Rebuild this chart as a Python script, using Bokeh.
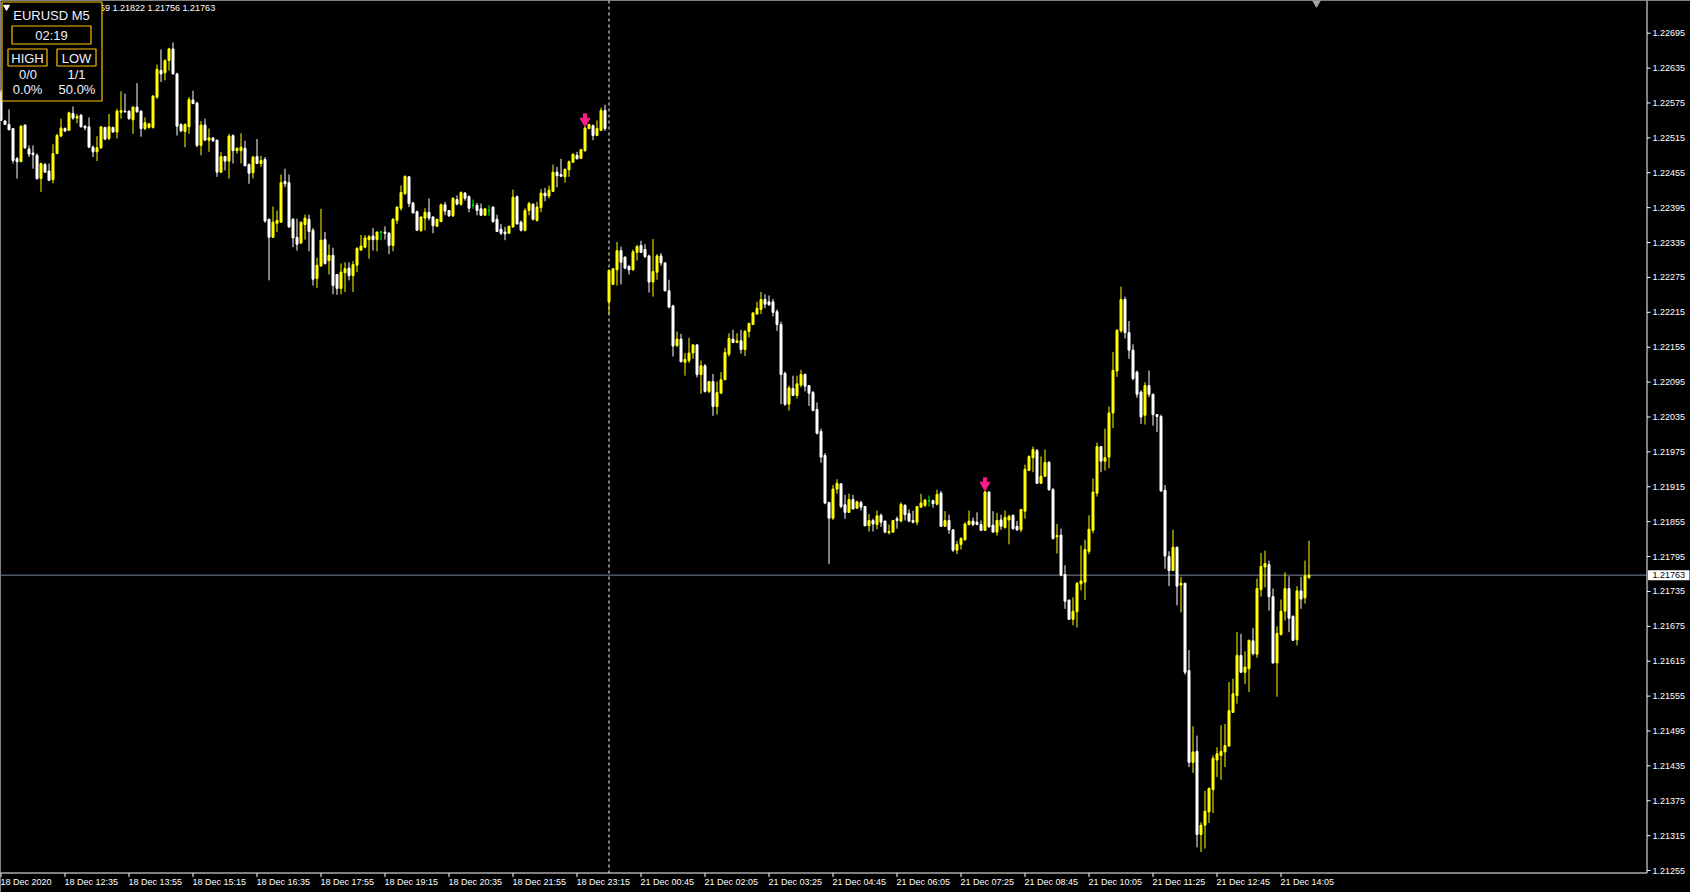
import numpy as np
from bokeh.plotting import figure
from bokeh.models import Range1d, ColumnDataSource
from bokeh.embed import file_html
from bokeh.resources import INLINE
from bokeh.core.properties import value

# ---------------- data (EURUSD M5) ----------------
symbol_title = "EURUSD M5"
bar_timer = "02:19"
stat_headers = ["HIGH", "LOW"]
stat_counts = ["0/0", "1/1"]
stat_pcts = ["0.0%", "50.0%"]

open_ = [
    1.22594, 1.22544, 1.22538, 1.22531, 1.22479, 1.22474, 1.22537, 1.22496, 1.22489, 1.22485,
    1.22445, 1.22469, 1.22458, 1.22443, 1.22488, 1.22518, 1.22531, 1.22528, 1.22557, 1.22549,
    1.22554, 1.22535, 1.22534, 1.22499, 1.22491, 1.22498, 1.22533, 1.22514, 1.22533, 1.22525,
    1.22559, 1.22561, 1.22561, 1.22546, 1.22568, 1.22561, 1.22531, 1.22533, 1.22533, 1.22585,
    1.22631, 1.22627, 1.22648, 1.22668, 1.22625, 1.22538, 1.22526, 1.22534, 1.22580, 1.22575,
    1.22502, 1.22537, 1.22511, 1.22515, 1.22511, 1.22456, 1.22483, 1.22475, 1.22519, 1.22493,
    1.22493, 1.22497, 1.22469, 1.22455, 1.22483, 1.22471, 1.22478, 1.22375, 1.22344, 1.22368,
    1.22370, 1.22440, 1.22438, 1.22375, 1.22344, 1.22334, 1.22366, 1.22375, 1.22356, 1.22273,
    1.22295, 1.22340, 1.22304, 1.22313, 1.22280, 1.22256, 1.22283, 1.22291, 1.22278, 1.22296,
    1.22322, 1.22327, 1.22340, 1.22346, 1.22340, 1.22353, 1.22353, 1.22351, 1.22330, 1.22373,
    1.22394, 1.22419, 1.22448, 1.22403, 1.22388, 1.22356, 1.22377, 1.22387, 1.22379, 1.22363,
    1.22371, 1.22400, 1.22390, 1.22381, 1.22409, 1.22401, 1.22420, 1.22414, 1.22399, 1.22399,
    1.22393, 1.22382, 1.22390, 1.22396, 1.22375, 1.22358, 1.22353, 1.22351, 1.22362, 1.22414,
    1.22370, 1.22356, 1.22390, 1.22401, 1.22373, 1.22395, 1.22420, 1.22415, 1.22423, 1.22456,
    1.22452, 1.22448, 1.22460, 1.22473, 1.22485, 1.22480, 1.22493, 1.22531, 1.22536, 1.22519,
    1.22528, 1.22562, 1.22233, 1.22263, 1.22288, 1.22321, 1.22310, 1.22294, 1.22288, 1.22318,
    1.22330, 1.22323, 1.22312, 1.22267, 1.22284, 1.22312, 1.22300, 1.22252, 1.22226, 1.22158,
    1.22169, 1.22129, 1.22132, 1.22145, 1.22159, 1.22108, 1.22123, 1.22079, 1.22096, 1.22053,
    1.22076, 1.22099, 1.22143, 1.22169, 1.22163, 1.22166, 1.22151, 1.22182, 1.22194, 1.22212,
    1.22220, 1.22237, 1.22233, 1.22233, 1.22216, 1.22194, 1.22110, 1.22057, 1.22084, 1.22072,
    1.22090, 1.22108, 1.22089, 1.22077, 1.22048, 1.22010, 1.21969, 1.21888, 1.21861, 1.21911,
    1.21920, 1.21884, 1.21871, 1.21893, 1.21878, 1.21888, 1.21881, 1.21848, 1.21857, 1.21850,
    1.21866, 1.21856, 1.21836, 1.21837, 1.21860, 1.21856, 1.21883, 1.21869, 1.21857, 1.21854,
    1.21880, 1.21883, 1.21891, 1.21891, 1.21885, 1.21904, 1.21847, 1.21857, 1.21841, 1.21806,
    1.21816, 1.21824, 1.21850, 1.21856, 1.21854, 1.21850, 1.21840, 1.21906, 1.21849, 1.21837,
    1.21858, 1.21845, 1.21858, 1.21866, 1.21847, 1.21841, 1.21873, 1.21943, 1.21965, 1.21977,
    1.21921, 1.21933, 1.21957, 1.21910, 1.21829, 1.21832, 1.21764, 1.21720, 1.21687, 1.21700,
    1.21748, 1.21751, 1.21804, 1.21840, 1.21904, 1.21984, 1.21959, 1.21966, 1.22042, 1.22114,
    1.22183, 1.22237, 1.22180, 1.22150, 1.22112, 1.22078, 1.22038, 1.22089, 1.22074, 1.22039,
    1.22036, 1.21909, 1.21795, 1.21771, 1.21811, 1.21746, 1.21749, 1.21599, 1.21441, 1.21460,
    1.21317, 1.21333, 1.21356, 1.21394, 1.21445, 1.21453, 1.21459, 1.21469, 1.21527, 1.21556,
    1.21625, 1.21596, 1.21602, 1.21650, 1.21627, 1.21738, 1.21777, 1.21781, 1.21726, 1.21612,
    1.21661, 1.21701, 1.21740, 1.21692, 1.21652, 1.21736, 1.21724, 1.21759,
]
high = [
    1.22597, 1.22546, 1.22564, 1.22531, 1.22482, 1.22537, 1.22538, 1.22502, 1.22502, 1.22488,
    1.22472, 1.22472, 1.22471, 1.22504, 1.22522, 1.22548, 1.22533, 1.22560, 1.22569, 1.22556,
    1.22556, 1.22537, 1.22550, 1.22502, 1.22518, 1.22535, 1.22534, 1.22556, 1.22534, 1.22565,
    1.22595, 1.22591, 1.22562, 1.22569, 1.22609, 1.22562, 1.22550, 1.22541, 1.22588, 1.22641,
    1.22667, 1.22650, 1.22670, 1.22679, 1.22627, 1.22540, 1.22540, 1.22585, 1.22596, 1.22577,
    1.22544, 1.22548, 1.22531, 1.22515, 1.22512, 1.22491, 1.22484, 1.22522, 1.22521, 1.22499,
    1.22523, 1.22510, 1.22471, 1.22484, 1.22513, 1.22484, 1.22482, 1.22376, 1.22397, 1.22390,
    1.22452, 1.22462, 1.22452, 1.22377, 1.22376, 1.22371, 1.22383, 1.22383, 1.22360, 1.22309,
    1.22393, 1.22353, 1.22332, 1.22326, 1.22281, 1.22299, 1.22301, 1.22301, 1.22303, 1.22327,
    1.22348, 1.22348, 1.22348, 1.22360, 1.22354, 1.22354, 1.22363, 1.22353, 1.22377, 1.22397,
    1.22433, 1.22450, 1.22449, 1.22405, 1.22390, 1.22380, 1.22394, 1.22411, 1.22380, 1.22376,
    1.22402, 1.22405, 1.22391, 1.22413, 1.22416, 1.22423, 1.22422, 1.22416, 1.22409, 1.22403,
    1.22402, 1.22394, 1.22399, 1.22397, 1.22383, 1.22367, 1.22362, 1.22364, 1.22426, 1.22416,
    1.22373, 1.22394, 1.22405, 1.22402, 1.22405, 1.22427, 1.22429, 1.22433, 1.22469, 1.22465,
    1.22479, 1.22462, 1.22476, 1.22488, 1.22491, 1.22496, 1.22534, 1.22539, 1.22538, 1.22545,
    1.22567, 1.22572, 1.22289, 1.22291, 1.22336, 1.22328, 1.22311, 1.22296, 1.22323, 1.22331,
    1.22338, 1.22332, 1.22314, 1.22341, 1.22315, 1.22317, 1.22301, 1.22271, 1.22228, 1.22182,
    1.22178, 1.22145, 1.22171, 1.22160, 1.22160, 1.22132, 1.22126, 1.22097, 1.22109, 1.22096,
    1.22112, 1.22154, 1.22179, 1.22185, 1.22179, 1.22185, 1.22185, 1.22197, 1.22215, 1.22233,
    1.22250, 1.22246, 1.22244, 1.22238, 1.22220, 1.22199, 1.22113, 1.22089, 1.22106, 1.22106,
    1.22116, 1.22110, 1.22090, 1.22080, 1.22060, 1.22015, 1.21973, 1.21889, 1.21918, 1.21928,
    1.21921, 1.21901, 1.21903, 1.21901, 1.21891, 1.21891, 1.21882, 1.21868, 1.21860, 1.21874,
    1.21869, 1.21857, 1.21850, 1.21858, 1.21864, 1.21888, 1.21885, 1.21876, 1.21874, 1.21882,
    1.21903, 1.21894, 1.21900, 1.21893, 1.21910, 1.21908, 1.21873, 1.21867, 1.21842, 1.21822,
    1.21828, 1.21854, 1.21874, 1.21862, 1.21871, 1.21857, 1.21908, 1.21907, 1.21873, 1.21870,
    1.21867, 1.21874, 1.21867, 1.21867, 1.21856, 1.21877, 1.21953, 1.21969, 1.21984, 1.21980,
    1.21967, 1.21979, 1.21959, 1.21913, 1.21851, 1.21843, 1.21780, 1.21721, 1.21725, 1.21751,
    1.21814, 1.21824, 1.21866, 1.21929, 1.21991, 1.21985, 1.22015, 1.22053, 1.22147, 1.22186,
    1.22259, 1.22242, 1.22200, 1.22160, 1.22115, 1.22081, 1.22095, 1.22115, 1.22075, 1.22040,
    1.22039, 1.21918, 1.21804, 1.21841, 1.21812, 1.21760, 1.21750, 1.21634, 1.21503, 1.21487,
    1.21338, 1.21392, 1.21398, 1.21453, 1.21467, 1.21505, 1.21507, 1.21579, 1.21585, 1.21665,
    1.21662, 1.21632, 1.21652, 1.21672, 1.21757, 1.21801, 1.21805, 1.21788, 1.21740, 1.21675,
    1.21721, 1.21768, 1.21761, 1.21694, 1.21744, 1.21760, 1.21788, 1.21822,
]
low = [
    1.22544, 1.22537, 1.22528, 1.22471, 1.22445, 1.22474, 1.22496, 1.22482, 1.22462, 1.22443,
    1.22422, 1.22455, 1.22441, 1.22437, 1.22487, 1.22517, 1.22525, 1.22527, 1.22546, 1.22540,
    1.22533, 1.22528, 1.22498, 1.22482, 1.22475, 1.22496, 1.22511, 1.22511, 1.22524, 1.22514,
    1.22548, 1.22558, 1.22546, 1.22522, 1.22558, 1.22517, 1.22528, 1.22531, 1.22531, 1.22582,
    1.22611, 1.22614, 1.22631, 1.22624, 1.22519, 1.22525, 1.22499, 1.22522, 1.22573, 1.22499,
    1.22485, 1.22510, 1.22491, 1.22508, 1.22448, 1.22455, 1.22459, 1.22445, 1.22471, 1.22488,
    1.22471, 1.22466, 1.22436, 1.22445, 1.22470, 1.22465, 1.22369, 1.22270, 1.22343, 1.22353,
    1.22369, 1.22430, 1.22360, 1.22327, 1.22321, 1.22333, 1.22340, 1.22320, 1.22261, 1.22257,
    1.22293, 1.22297, 1.22280, 1.22246, 1.22245, 1.22246, 1.22250, 1.22270, 1.22250, 1.22284,
    1.22321, 1.22325, 1.22307, 1.22321, 1.22320, 1.22339, 1.22340, 1.22315, 1.22320, 1.22367,
    1.22390, 1.22417, 1.22396, 1.22385, 1.22355, 1.22353, 1.22356, 1.22373, 1.22351, 1.22362,
    1.22370, 1.22382, 1.22379, 1.22379, 1.22399, 1.22398, 1.22407, 1.22387, 1.22393, 1.22382,
    1.22381, 1.22381, 1.22381, 1.22369, 1.22353, 1.22348, 1.22339, 1.22350, 1.22360, 1.22366,
    1.22354, 1.22354, 1.22382, 1.22373, 1.22371, 1.22387, 1.22406, 1.22411, 1.22422, 1.22430,
    1.22448, 1.22438, 1.22448, 1.22472, 1.22478, 1.22479, 1.22491, 1.22530, 1.22511, 1.22518,
    1.22527, 1.22527, 1.22212, 1.22262, 1.22261, 1.22263, 1.22289, 1.22280, 1.22287, 1.22304,
    1.22317, 1.22308, 1.22249, 1.22242, 1.22271, 1.22295, 1.22251, 1.22222, 1.22139, 1.22155,
    1.22129, 1.22106, 1.22128, 1.22135, 1.22103, 1.22075, 1.22077, 1.22076, 1.22037, 1.22039,
    1.22075, 1.22099, 1.22139, 1.22162, 1.22162, 1.22144, 1.22140, 1.22172, 1.22193, 1.22211,
    1.22212, 1.22222, 1.22226, 1.22208, 1.22183, 1.22057, 1.22054, 1.22046, 1.22071, 1.22067,
    1.22086, 1.22079, 1.22054, 1.22045, 1.22005, 1.21956, 1.21885, 1.21782, 1.21858, 1.21903,
    1.21878, 1.21860, 1.21870, 1.21876, 1.21877, 1.21874, 1.21847, 1.21838, 1.21838, 1.21842,
    1.21846, 1.21835, 1.21833, 1.21836, 1.21843, 1.21854, 1.21857, 1.21854, 1.21852, 1.21849,
    1.21879, 1.21880, 1.21881, 1.21879, 1.21883, 1.21846, 1.21846, 1.21834, 1.21803, 1.21799,
    1.21807, 1.21822, 1.21849, 1.21847, 1.21849, 1.21839, 1.21839, 1.21845, 1.21836, 1.21831,
    1.21841, 1.21843, 1.21816, 1.21841, 1.21839, 1.21837, 1.21860, 1.21942, 1.21940, 1.21920,
    1.21920, 1.21932, 1.21908, 1.21824, 1.21800, 1.21761, 1.21705, 1.21686, 1.21677, 1.21673,
    1.21737, 1.21720, 1.21799, 1.21835, 1.21898, 1.21940, 1.21943, 1.21947, 1.22016, 1.22104,
    1.22180, 1.22170, 1.22135, 1.22098, 1.22068, 1.22023, 1.22022, 1.22069, 1.22020, 1.22009,
    1.21906, 1.21774, 1.21744, 1.21770, 1.21711, 1.21699, 1.21592, 1.21433, 1.21423, 1.21295,
    1.21287, 1.21293, 1.21337, 1.21354, 1.21416, 1.21411, 1.21433, 1.21468, 1.21526, 1.21542,
    1.21595, 1.21576, 1.21562, 1.21625, 1.21621, 1.21726, 1.21742, 1.21702, 1.21611, 1.21554,
    1.21659, 1.21685, 1.21665, 1.21650, 1.21642, 1.21705, 1.21714, 1.21756,
]
close = [
    1.22545, 1.22538, 1.22529, 1.22476, 1.22474, 1.22535, 1.22498, 1.22487, 1.22486, 1.22445,
    1.22471, 1.22456, 1.22442, 1.22488, 1.22519, 1.22532, 1.22527, 1.22558, 1.22549, 1.22552,
    1.22534, 1.22532, 1.22499, 1.22491, 1.22498, 1.22534, 1.22513, 1.22534, 1.22525, 1.22561,
    1.22562, 1.22560, 1.22548, 1.22568, 1.22560, 1.22531, 1.22541, 1.22539, 1.22587, 1.22633,
    1.22625, 1.22648, 1.22668, 1.22625, 1.22535, 1.22527, 1.22538, 1.22581, 1.22574, 1.22502,
    1.22537, 1.22511, 1.22515, 1.22510, 1.22456, 1.22483, 1.22475, 1.22518, 1.22493, 1.22497,
    1.22499, 1.22467, 1.22454, 1.22482, 1.22471, 1.22476, 1.22372, 1.22344, 1.22370, 1.22373,
    1.22438, 1.22436, 1.22362, 1.22343, 1.22332, 1.22370, 1.22377, 1.22354, 1.22272, 1.22296,
    1.22339, 1.22299, 1.22313, 1.22261, 1.22256, 1.22284, 1.22290, 1.22278, 1.22297, 1.22325,
    1.22329, 1.22343, 1.22345, 1.22340, 1.22353, 1.22353, 1.22351, 1.22330, 1.22375, 1.22396,
    1.22421, 1.22449, 1.22402, 1.22386, 1.22356, 1.22379, 1.22387, 1.22377, 1.22364, 1.22375,
    1.22400, 1.22389, 1.22381, 1.22411, 1.22401, 1.22421, 1.22411, 1.22394, 1.22399, 1.22390,
    1.22382, 1.22393, 1.22390, 1.22371, 1.22354, 1.22351, 1.22350, 1.22363, 1.22413, 1.22367,
    1.22356, 1.22390, 1.22402, 1.22375, 1.22396, 1.22420, 1.22415, 1.22425, 1.22456, 1.22450,
    1.22449, 1.22461, 1.22474, 1.22487, 1.22479, 1.22495, 1.22532, 1.22538, 1.22519, 1.22531,
    1.22562, 1.22531, 1.22287, 1.22290, 1.22321, 1.22301, 1.22291, 1.22288, 1.22319, 1.22328,
    1.22318, 1.22311, 1.22267, 1.22285, 1.22312, 1.22300, 1.22252, 1.22224, 1.22157, 1.22169,
    1.22130, 1.22134, 1.22145, 1.22159, 1.22108, 1.22123, 1.22079, 1.22096, 1.22053, 1.22077,
    1.22099, 1.22146, 1.22170, 1.22163, 1.22166, 1.22151, 1.22182, 1.22196, 1.22214, 1.22222,
    1.22237, 1.22229, 1.22228, 1.22215, 1.22194, 1.22108, 1.22057, 1.22085, 1.22072, 1.22092,
    1.22108, 1.22088, 1.22076, 1.22046, 1.22007, 1.21966, 1.21887, 1.21861, 1.21911, 1.21921,
    1.21881, 1.21871, 1.21893, 1.21877, 1.21889, 1.21880, 1.21848, 1.21857, 1.21851, 1.21865,
    1.21854, 1.21837, 1.21838, 1.21857, 1.21857, 1.21885, 1.21867, 1.21856, 1.21854, 1.21881,
    1.21887, 1.21892, 1.21891, 1.21886, 1.21902, 1.21847, 1.21857, 1.21841, 1.21806, 1.21816,
    1.21826, 1.21851, 1.21856, 1.21850, 1.21850, 1.21840, 1.21906, 1.21846, 1.21837, 1.21857,
    1.21847, 1.21862, 1.21864, 1.21843, 1.21841, 1.21876, 1.21945, 1.21967, 1.21979, 1.21921,
    1.21933, 1.21957, 1.21910, 1.21826, 1.21831, 1.21763, 1.21718, 1.21687, 1.21701, 1.21749,
    1.21753, 1.21807, 1.21842, 1.21906, 1.21984, 1.21959, 1.21965, 1.22042, 1.22115, 1.22184,
    1.22237, 1.22180, 1.22150, 1.22101, 1.22074, 1.22035, 1.22089, 1.22074, 1.22039, 1.22036,
    1.21908, 1.21796, 1.21771, 1.21811, 1.21744, 1.21749, 1.21596, 1.21441, 1.21459, 1.21317,
    1.21333, 1.21357, 1.21396, 1.21448, 1.21456, 1.21460, 1.21470, 1.21530, 1.21559, 1.21625,
    1.21596, 1.21605, 1.21651, 1.21628, 1.21740, 1.21778, 1.21783, 1.21726, 1.21612, 1.21663,
    1.21701, 1.21740, 1.21689, 1.21651, 1.21736, 1.21722, 1.21762, 1.21763,
]

time_tick_bars = [0, 16, 32, 48, 64, 80, 96, 112, 128, 144, 160,
                  176, 192, 208, 224, 240, 256, 272, 288, 304, 320]
time_tick_labels = ["18 Dec 2020", "18 Dec 12:35", "18 Dec 13:55", "18 Dec 15:15",
                    "18 Dec 16:35", "18 Dec 17:55", "18 Dec 19:15", "18 Dec 20:35",
                    "18 Dec 21:55", "18 Dec 23:15", "21 Dec 00:45", "21 Dec 02:05",
                    "21 Dec 03:25", "21 Dec 04:45", "21 Dec 06:05", "21 Dec 07:25",
                    "21 Dec 08:45", "21 Dec 10:05", "21 Dec 11:25", "21 Dec 12:45",
                    "21 Dec 14:05"]
price_ticks = [1.22695, 1.22635, 1.22575, 1.22515, 1.22455, 1.22395, 1.22335, 1.22275,
               1.22215, 1.22155, 1.22095, 1.22035, 1.21975, 1.21915, 1.21855, 1.21795,
               1.21735, 1.21675, 1.21615, 1.21555, 1.21495, 1.21435, 1.21375, 1.21315,
               1.21255]
session_start_bar = 152          # first bar of 21 Dec
signal_bars = [146, 246]         # sell-arrow signals

n = len(open_)
assert len(high) == n and len(low) == n and len(close) == n, (len(open_), len(high), len(low), len(close))

# ---------------- layout / style ----------------
W, H = 1690, 892
AXIS_X = 1646.5          # price-scale line (pixels)
AXIS_Y = 872.5           # time-scale line (pixels)
BAR_PX = 4.0
FIRST_BAR_X = 0.5
PX_PER_PRICE = 58149.0
REF_PRICE, REF_Y = 1.22695, 32.7
BULL, BEAR, DOJI = "#FFFF00", "#FFFFFF", "#00FF00"
PINK = "#FF1A8C"
GOLD = "#FFC000"
FONT = "Liberation Sans"


def dx(px):
    return (px - FIRST_BAR_X) / BAR_PX


def dy(py):
    return REF_PRICE - (py - REF_Y) / PX_PER_PRICE


PX = 1.0 / PX_PER_PRICE

p = figure(width=W, height=H,
           x_range=Range1d(dx(0), dx(W)), y_range=Range1d(dy(H), dy(0)),
           output_backend="svg", toolbar_location=None,
           x_axis_location=None, y_axis_location=None,
           min_border=0, min_border_left=0, min_border_right=0,
           min_border_top=0, min_border_bottom=0,
           background_fill_color="black", border_fill_color="black",
           outline_line_color=None)
p.grid.visible = False

o = np.array(open_); h = np.array(high); l = np.array(low); c = np.array(close)
idx = np.arange(n)

# period separator and current bid line (behind the candles)
p.segment(x0=[session_start_bar], x1=[session_start_bar], y0=[dy(0)], y1=[dy(AXIS_Y)],
          line_color="white", line_width=1, line_dash="3 3")
p.segment(x0=[dx(0)], x1=[dx(AXIS_X - 0.5)], y0=[c[-1]], y1=[c[-1]],
          line_color="#778899", line_width=1)

# candles
colors = np.where(c > o, BULL, np.where(c < o, BEAR, DOJI))
src = ColumnDataSource(dict(x=idx, h=h, l=l, top=np.maximum(o, c), bottom=np.minimum(o, c), color=colors))
p.segment(x0="x", x1="x", y0="l", y1="h", line_color="color", line_width=1, source=src)
p.vbar(x="x", width=0.5, top="top", bottom="bottom", fill_color="color",
       line_color="color", line_width=1, source=src)

# sell arrows above signal candles
sig = np.array(signal_bars)
sh = h[sig]
p.segment(x0=sig, x1=sig, y0=sh + 8 * PX, y1=sh + 13.5 * PX, line_color=PINK, line_width=4)
p.scatter(x=sig, y=sh + 5.8 * PX, marker="inverted_triangle", size=10,
          fill_color=PINK, line_color=PINK)

# ---- price scale (right) ----
p.segment(x0=[dx(AXIS_X)], x1=[dx(AXIS_X)], y0=[dy(0)], y1=[dy(AXIS_Y)],
          line_color="white", line_width=1)
nt = len(price_ticks)
p.segment(x0=[dx(AXIS_X)] * nt, x1=[dx(AXIS_X + 3.5)] * nt, y0=price_ticks, y1=price_ticks,
          line_color="white", line_width=1)
p.text(x=[dx(1652)] * nt, y=price_ticks, text=[f"{t:.5f}" for t in price_ticks],
       text_align="left", text_baseline="middle", text_color="white",
       text_font=value(FONT), text_font_size=value("9px"))
# current price box
p.quad(left=[dx(AXIS_X + 1)], right=[dx(1689)], top=[c[-1] + 5 * PX], bottom=[c[-1] - 5 * PX],
       fill_color="white", line_color=None)
p.text(x=[dx(1652)], y=[c[-1]], text=[f"{c[-1]:.5f}"], text_align="left",
       text_baseline="middle", text_color="black",
       text_font=value(FONT), text_font_size=value("9px"))

# ---- time scale (bottom) ----
p.segment(x0=[dx(0)], x1=[dx(AXIS_X)], y0=[dy(AXIS_Y)], y1=[dy(AXIS_Y)],
          line_color="white", line_width=1)
tb = np.array(time_tick_bars)
p.segment(x0=tb, x1=tb, y0=[dy(AXIS_Y)] * len(tb), y1=[dy(AXIS_Y + 4)] * len(tb),
          line_color="white", line_width=1)
p.text(x=tb - 0.125, y=[dy(881.5)] * len(tb), text=time_tick_labels,
       text_align="left", text_baseline="middle", text_color="white",
       text_font=value(FONT), text_font_size=value("9px"))

# ---- OHLC header line (partly hidden by the info panel) ----
p.text(x=[dx(77)], y=[dy(7.5)],
       text=[f"{o[-1]:.5f} {h[-1]:.5f} {l[-1]:.5f} {c[-1]:.5f}"],
       text_align="left", text_baseline="middle", text_color="white",
       text_font=value(FONT), text_font_size=value("9px"))

# ---- info panel ----
p.quad(left=[dx(1.5)], right=[dx(101.5)], top=[dy(1.5)], bottom=[dy(100.5)],
       fill_color="black", line_color=GOLD, line_width=1.2)
boxes = [(11.5, 90.5, 25.5, 43.5), (7.5, 46.5, 48.5, 65.5), (56.5, 95.5, 48.5, 65.5)]
p.quad(left=[dx(b[0]) for b in boxes], right=[dx(b[1]) for b in boxes],
       top=[dy(b[2]) for b in boxes], bottom=[dy(b[3]) for b in boxes],
       fill_alpha=0.0, line_color=GOLD, line_width=1.2)
p.scatter(x=[dx(6)], y=[dy(6.5)], marker="inverted_triangle", size=6,
          fill_color="white", line_color="white")
panel_texts = [(symbol_title, 51, 15), (bar_timer, 51, 34.5),
               (stat_headers[0], 27, 57.5), (stat_headers[1], 76, 57.5),
               (stat_counts[0], 27.5, 73.5), (stat_counts[1], 76, 73.5),
               (stat_pcts[0], 27, 89), (stat_pcts[1], 76.5, 89)]
p.text(x=[dx(t[1]) for t in panel_texts], y=[dy(t[2]) for t in panel_texts],
       text=[t[0] for t in panel_texts], text_align="center", text_baseline="middle",
       text_color="#EEF2FF", text_font=value(FONT), text_font_size=value("13px"))

# chart-shift marker at the top
p.scatter(x=[dx(1316)], y=[dy(1)], marker="inverted_triangle", size=10,
          fill_color="#A0A4A8", line_color="#A0A4A8")

open("out.html", "w").write(file_html(p, INLINE))
